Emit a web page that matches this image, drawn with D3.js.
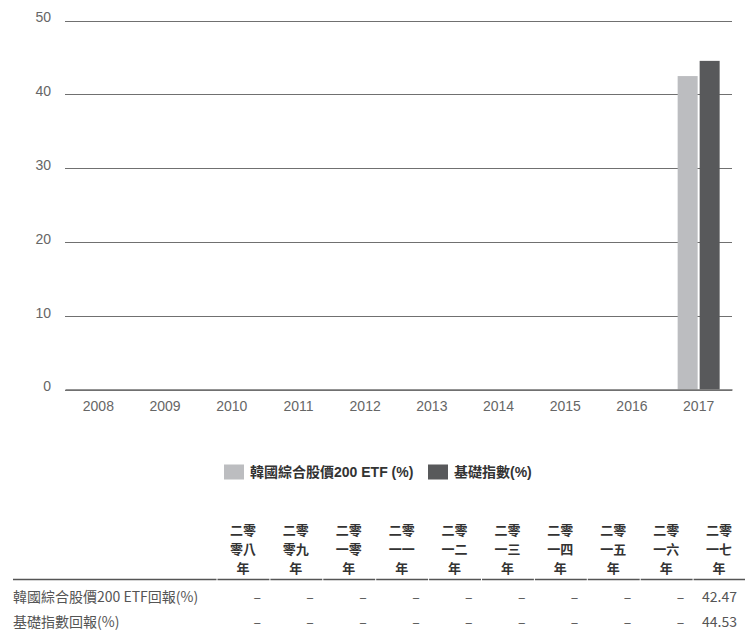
<!DOCTYPE html>
<html><head><meta charset="utf-8">
<script src="https://cdn.jsdelivr.net/npm/d3@7"></script>
<style>
html,body{margin:0;padding:0;background:#fff;}
svg{display:block;}
</style></head>
<body>
<script>
const years = ["2008","2009","2010","2011","2012","2013","2014","2015","2016","2017"];
const yearLabelsZh = [
  ["二零","零八","年"],["二零","零九","年"],["二零","一零","年"],["二零","一一","年"],["二零","一二","年"],
  ["二零","一三","年"],["二零","一四","年"],["二零","一五","年"],["二零","一六","年"],["二零","一七","年"]
];
const seriesNames = ["韓國綜合股價200 ETF (%)", "基礎指數(%)"];
const rowLabels = ["韓國綜合股價200 ETF回報(%)", "基礎指數回報(%)"];
const etfValues = [null,null,null,null,null,null,null,null,null,42.47];
const indexValues = [null,null,null,null,null,null,null,null,null,44.53];
const yTicks = [0,10,20,30,40,50];
const colors = ["#bcbdc0", "#58595b"];

const W = 745, H = 632;
const svg = d3.select("body").append("svg").attr("width", W).attr("height", H);
const latin = "'Liberation Sans', Arial, Helvetica, sans-serif";
const cjk = "'Liberation Sans', 'Noto Sans CJK TC', sans-serif";
const cjkTable = "'Noto Sans CJK TC', 'Noto Sans', sans-serif";

const x = d3.scaleBand().domain(years).range([65, 732]).paddingInner(0).paddingOuter(0);
const y = d3.scaleLinear().domain([0, 50]).range([389.5, 20.5]);

// gridlines + y labels
const yAxis = d3.axisLeft(y).tickValues(yTicks).tickSize(-(732 - 65)).tickPadding(14);
const gy = svg.append("g").attr("transform", "translate(65,0)").call(yAxis);
gy.select(".domain").remove();
gy.selectAll(".tick line").attr("stroke", "#707070").attr("stroke-width", 1).attr("shape-rendering", "crispEdges");
gy.selectAll(".tick text").attr("font-family", latin).attr("font-size", 14).attr("fill", "#666").attr("dy", "0.1em");

// bars
const series = [etfValues, indexValues];
const barW = 20;
series.forEach((vals, si) => {
  svg.append("g").selectAll("rect")
    .data(years.map((yr, i) => ({yr, v: vals[i]})).filter(d => d.v != null))
    .join("rect")
    .attr("x", d => x(d.yr) + x.bandwidth() / 2 - 21 + si * 22)
    .attr("y", d => y(d.v))
    .attr("width", barW)
    .attr("height", d => y(0) - y(d.v))
    .attr("fill", colors[si]);
});

// x axis
const xAxis = d3.axisBottom(x).tickSize(0).tickPadding(12);
const gx = svg.append("g").attr("transform", `translate(0,${y(0)})`).call(xAxis);
gx.select(".domain").attr("stroke", "#707070").attr("stroke-width", 1.5);
gx.selectAll(".tick text").attr("font-family", latin).attr("font-size", 14).attr("fill", "#666");

// legend
const legend = svg.append("g");
const legItems = [{x: 224, tx: 250}, {x: 428, tx: 454}];
seriesNames.forEach((n, i) => {
  legend.append("rect").attr("x", legItems[i].x).attr("y", 464.5).attr("width", 20).attr("height", 15).attr("fill", colors[i]);
  legend.append("text").attr("x", legItems[i].tx).attr("y", 472).attr("dy", "0.35em")
    .attr("font-family", cjk).attr("font-weight", "bold").attr("font-size", 14).attr("fill", "#333")
    .text(n);
});

// table
const colX = d3.scaleBand().domain(years).range([216.5, 745.5]);
const table = svg.append("g");
yearLabelsZh.forEach((lines, i) => {
  const cx = colX(years[i]) + colX.bandwidth() / 2;
  lines.forEach((ln, j) => {
    table.append("text").attr("x", cx).attr("y", 530 + j * 19).attr("dy", "0.35em")
      .attr("text-anchor", "middle").attr("font-family", cjkTable).attr("font-weight", "bold")
      .attr("font-size", 13).attr("fill", "#333").text(ln);
  });
  table.append("line").attr("x1", colX(years[i]) + 1).attr("x2", colX(years[i]) + colX.bandwidth())
    .attr("y1", 579.5).attr("y2", 579.5).attr("stroke", "#555").attr("stroke-width", 1.5);
});
table.append("line").attr("x1", 13).attr("x2", 216.5).attr("y1", 579.5).attr("y2", 579.5)
  .attr("stroke", "#555").attr("stroke-width", 1.5);

const rowY = [597, 622];
[etfValues, indexValues].forEach((vals, r) => {
  table.append("text").attr("x", 13).attr("y", rowY[r]).attr("dy", "0.35em")
    .attr("font-family", cjkTable).attr("font-size", 14).attr("fill", "#555").text(rowLabels[r]);
  vals.forEach((v, i) => {
    const rx = colX(years[i]) + colX.bandwidth() / 2 + 18;
    table.append("text").attr("x", rx).attr("y", rowY[r]).attr("dy", "0.35em")
      .attr("text-anchor", "end").attr("font-family", cjkTable).attr("font-size", 14)
      .attr("fill", "#555").text(v == null ? "–" : v.toFixed(2));
  });
});
</script>
</body></html>
